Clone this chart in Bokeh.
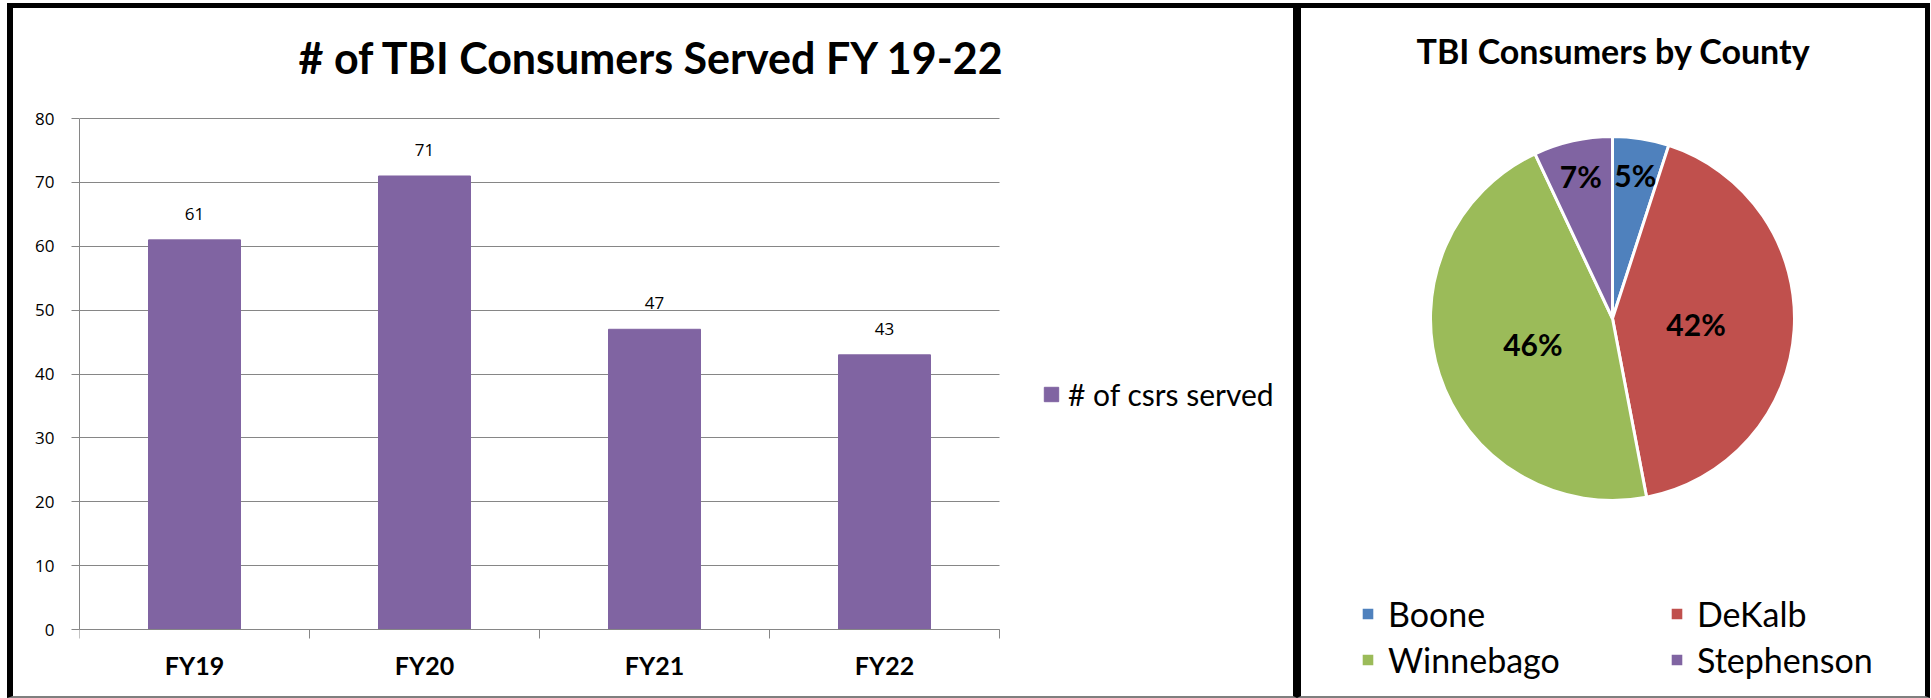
import math
from bokeh.plotting import figure
from bokeh.models import (Range1d, FixedTicker, Legend, LegendItem, ColumnDataSource, Label)
from bokeh.layouts import row
from bokeh.core.properties import value
from bokeh.embed import file_html
from bokeh.resources import INLINE

# ---------------- data ----------------
years = ["FY19", "FY20", "FY21", "FY22"]
served = [61, 71, 47, 43]
series_name = "# of csrs served"
y_ticks = [0, 10, 20, 30, 40, 50, 60, 70, 80]

counties = ["Boone", "DeKalb", "Winnebago", "Stephenson"]
county_pct = [5, 42, 46, 7]
county_colors = ["#4F81BD", "#C0504D", "#9BBB59", "#8064A2"]

bar_title = "# of TBI Consumers Served FY 19-22"
pie_title = "TBI Consumers by County"

BAR_COLOR = "#8064A2"
GRID = "#868686"

# ---------------- bar chart (pixel layout of the canvas) ----------------
CW1, CH1 = 1290, 695      # canvas size (equals element size incl. borders)
AX_L = 66                 # y axis position from left of canvas
PLOT_W = 920              # width used by the categories
TOP80, BOT0 = 110, 621    # pixel rows of the top tick and the zero line

centers = list(range(1, len(years) + 1))
x0, x1 = 0.5, len(years) + 0.5
px_per_cat = PLOT_W / (x1 - x0)
px_per_unit = (BOT0 - TOP80) / (y_ticks[-1] - y_ticks[0])

bar_src = ColumnDataSource(dict(x=centers, top=served, lbl=[str(v) for v in served]))

p1 = figure(width=CW1, height=CH1, title=None,
            x_range=Range1d(x0, x0 + (CW1 - AX_L) / px_per_cat),
            y_range=Range1d(y_ticks[0] - (CH1 - BOT0) / px_per_unit,
                            y_ticks[-1] + TOP80 / px_per_unit),
            output_backend="svg", toolbar_location=None,
            min_border_left=AX_L, min_border_right=0, min_border_top=0, min_border_bottom=0)
p1.outline_line_color = None
p1.background_fill_color = "white"
p1.border_fill_color = "white"

p1.add_layout(Label(x=652 - 79, y=CH1 - 49, x_units="screen", y_units="screen",
                    text=bar_title, text_align="center", text_baseline="alphabetic",
                    text_font="Lato", text_font_size="43px", text_font_style="bold",
                    text_color="black"))

p1.xgrid.visible = False
grid = p1.ygrid[0]
if "cross_bounds" in grid.properties():
    grid.cross_bounds = (x0, x1)
    grid.grid_line_color = GRID
else:
    grid.visible = False
    p1.segment(x0=[x0] * len(y_ticks), x1=[x1] * len(y_ticks), y0=y_ticks, y1=y_ticks,
               line_color=GRID, line_width=1)

ya = p1.yaxis[0]
ya.ticker = FixedTicker(ticks=y_ticks, minor_ticks=[])
ya.bounds = (y_ticks[0], y_ticks[-1])
ya.axis_line_color = GRID
ya.major_tick_line_color = GRID
ya.major_tick_out = 8
ya.major_tick_in = 0
ya.minor_tick_line_color = None
ya.major_label_standoff = 17
ya.major_label_text_font = "Open Sans"
ya.major_label_text_font_size = "17px"
ya.major_label_text_color = "black"

xa = p1.xaxis[0]
xa.fixed_location = y_ticks[0]
xa.bounds = (x0, x1)
xa.ticker = FixedTicker(ticks=centers, minor_ticks=[c - 0.5 for c in centers] + [centers[-1] + 0.5])
xa.major_label_overrides = {c: y for c, y in zip(centers, years)}
xa.axis_line_color = GRID
xa.major_tick_line_color = None
xa.major_tick_out = 0
xa.major_tick_in = 0
xa.minor_tick_line_color = GRID
xa.minor_tick_out = 9
xa.minor_tick_in = 0
xa.major_label_standoff = 11
xa.major_label_text_font = "Lato"
xa.major_label_text_font_size = "25px"
xa.major_label_text_font_style = "bold"
xa.major_label_text_color = "black"

bars = p1.vbar(x="x", top="top", width=0.4, source=bar_src,
               fill_color=BAR_COLOR, line_color=BAR_COLOR)
p1.text(x="x", y="top", text="lbl", source=bar_src, y_offset=-26,
        text_align="center", text_baseline="alphabetic",
        text_font=value("Open Sans"), text_font_size="17px", text_color="black")

leg1 = Legend(items=[LegendItem(label=series_name, renderers=[bars])],
              location=(963, CH1 - 404), glyph_width=18, glyph_height=18,
              label_standoff=8, padding=0, margin=0, border_line_color=None,
              background_fill_alpha=0, label_text_font="Lato",
              label_text_font_size="30px", label_text_color="black")
p1.add_layout(leg1)

p1.styles = {"border-top": "5px solid black", "border-left": "6px solid black",
             "border-right": "4px solid black", "border-bottom": "2px solid #7f7f7f"}

# ---------------- pie chart ----------------
R_PX = 182.0
CW2, CH2 = 633, 695          # canvas size (equals element size incl. borders)
CX_PX, CY_PX = 311.0, 310.0  # pie centre (from left, from top of the canvas)

p2 = figure(width=CW2, height=CH2, output_backend="svg", toolbar_location=None,
            x_axis_type=None, y_axis_type=None, title=None,
            x_range=Range1d(-CX_PX / R_PX, (CW2 - CX_PX) / R_PX),
            y_range=Range1d(-(CH2 - CY_PX) / R_PX, CY_PX / R_PX),
            min_border_left=0, min_border_right=0, min_border_top=0, min_border_bottom=0)
p2.outline_line_color = None
p2.grid.visible = False
p2.background_fill_color = "white"
p2.border_fill_color = "white"

p2.add_layout(Label(x=CX_PX + 1, y=CH2 - 42, x_units="screen", y_units="screen",
                    text=pie_title, text_align="center", text_baseline="alphabetic",
                    text_font="Lato", text_font_size="34px", text_font_style="bold",
                    text_color="black"))

total = float(sum(county_pct))
starts, ends, lx, ly, labels = [], [], [], [], []
cum = 0.0
for v in county_pct:
    a0 = cum / total
    a1 = (cum + v) / total
    starts.append(math.pi / 2 - 2 * math.pi * a0)
    ends.append(math.pi / 2 - 2 * math.pi * a1)
    mid = math.pi / 2 - 2 * math.pi * (a0 + a1) / 2
    r = 0.8 if v / total < 0.1 else 0.46
    lx.append(r * math.cos(mid))
    ly.append(r * math.sin(mid))
    labels.append(f"{v}%")
    cum += v

pie_src = ColumnDataSource(dict(start=starts, end=ends, color=county_colors,
                                name=counties, lx=lx, ly=ly, lbl=labels))
wedges = p2.wedge(x=0, y=0, radius=1, start_angle="start", end_angle="end",
                  direction="clock", fill_color="color", line_color="white",
                  line_width=3, source=pie_src)
p2.text(x="lx", y="ly", text="lbl", source=pie_src, text_align="center",
        text_baseline="middle", text_font=value("Lato"), text_font_size="30px",
        text_font_style="bold", text_color="black")

def pie_legend(idx, xloc):
    return Legend(items=[LegendItem(label=counties[i], renderers=[wedges], index=i) for i in idx],
                  location=(xloc, 23), orientation="vertical", glyph_width=17, glyph_height=17,
                  label_standoff=12, spacing=5, padding=0, margin=0,
                  border_line_color=None, background_fill_alpha=0,
                  label_text_font="Lato", label_text_font_size="34px",
                  label_text_color="black")

p2.add_layout(pie_legend([0, 2], 58))
p2.add_layout(pie_legend([1, 3], 367))

p2.styles = {"border-top": "5px solid black", "border-left": "4px solid black",
             "border-right": "5px solid black", "border-bottom": "2px solid #7f7f7f"}

layout = row(p1, p2, spacing=0, styles={"margin-top": "3px", "margin-left": "7px"})

open("out.html", "w").write(file_html(layout, INLINE))
